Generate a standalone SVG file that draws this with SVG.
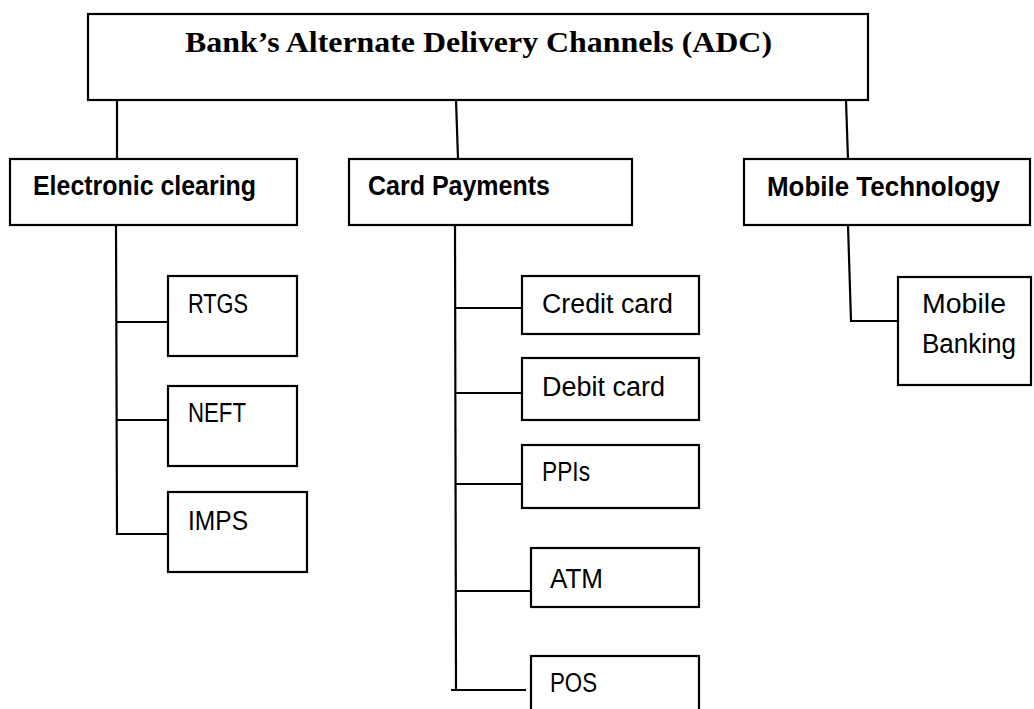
<svg xmlns="http://www.w3.org/2000/svg" width="1034" height="709" viewBox="0 0 1034 709">
<style>
.box{fill:#fff;stroke:#000;stroke-width:2.2}
.ln{fill:none;stroke:#000;stroke-width:2.2}
.title{font-family:"Liberation Serif","Times New Roman",serif;font-weight:bold;font-size:30px;fill:#000}
.hd{font-family:"Liberation Sans Narrow","Liberation Sans",Arial,sans-serif;font-weight:bold;font-size:27px;fill:#000}
.lb{font-family:"Liberation Sans Narrow","Liberation Sans",Arial,sans-serif;font-size:27px;fill:#000}
</style>
<rect width="1034" height="709" fill="#fff"/>
<g id="connectors">
<line class="ln" x1="117" y1="100" x2="117" y2="159"/>
<line class="ln" x1="456" y1="100" x2="458" y2="159"/>
<line class="ln" x1="846" y1="100" x2="848" y2="160"/>
<polyline class="ln" points="116,225 117,534 168,534"/>
<line class="ln" x1="116" y1="322" x2="168" y2="322"/>
<line class="ln" x1="116" y1="420" x2="168" y2="420"/>
<line class="ln" x1="455" y1="225" x2="456" y2="690"/>
<line class="ln" x1="455" y1="308" x2="522" y2="308"/>
<line class="ln" x1="455" y1="393" x2="522" y2="393"/>
<line class="ln" x1="455" y1="484" x2="522" y2="484"/>
<line class="ln" x1="455" y1="591" x2="531" y2="591"/>
<line class="ln" x1="451" y1="690" x2="526" y2="690"/>
<polyline class="ln" points="848,225 851,321 898,321"/>
</g>
<g id="root">
<rect class="box" x="88" y="14" width="780" height="86"/>
<text class="title" x="185" y="52" textLength="587" lengthAdjust="spacingAndGlyphs">Bank’s Alternate Delivery Channels (ADC)</text>
</g>
<g id="electronic-clearing">
<rect class="box" x="10" y="159" width="287" height="66"/>
<text class="hd" x="33" y="195" textLength="223" lengthAdjust="spacingAndGlyphs">Electronic clearing</text>
</g>
<g id="card-payments">
<rect class="box" x="349" y="159" width="283" height="66"/>
<text class="hd" x="368" y="195" textLength="182" lengthAdjust="spacingAndGlyphs">Card Payments</text>
</g>
<g id="mobile-technology">
<rect class="box" x="744" y="159" width="286" height="66"/>
<text class="hd" x="767" y="196" textLength="233" lengthAdjust="spacingAndGlyphs">Mobile Technology</text>
</g>
<g id="rtgs">
<rect class="box" x="168" y="276" width="129" height="80"/>
<text class="lb" x="188" y="313" textLength="60" lengthAdjust="spacingAndGlyphs">RTGS</text>
</g>
<g id="neft">
<rect class="box" x="168" y="386" width="129" height="80"/>
<text class="lb" x="188" y="422" textLength="58" lengthAdjust="spacingAndGlyphs">NEFT</text>
</g>
<g id="imps">
<rect class="box" x="168" y="492" width="139" height="80"/>
<text class="lb" x="188" y="530" textLength="60" lengthAdjust="spacingAndGlyphs">IMPS</text>
</g>
<g id="credit-card">
<rect class="box" x="522" y="276" width="177" height="58"/>
<text class="lb" x="542" y="313" textLength="131" lengthAdjust="spacingAndGlyphs">Credit card</text>
</g>
<g id="debit-card">
<rect class="box" x="522" y="358" width="177" height="62"/>
<text class="lb" x="542" y="396" textLength="123" lengthAdjust="spacingAndGlyphs">Debit card</text>
</g>
<g id="ppis">
<rect class="box" x="522" y="445" width="177" height="63"/>
<text class="lb" x="542" y="481" textLength="48" lengthAdjust="spacingAndGlyphs">PPIs</text>
</g>
<g id="atm">
<rect class="box" x="531" y="548" width="168" height="59"/>
<text class="lb" x="550" y="588" textLength="53" lengthAdjust="spacingAndGlyphs">ATM</text>
</g>
<g id="pos">
<rect class="box" x="531" y="656" width="168" height="60"/>
<text class="lb" x="550" y="692" textLength="47" lengthAdjust="spacingAndGlyphs">POS</text>
</g>
<g id="mobile-banking">
<rect class="box" x="898" y="277" width="133" height="108"/>
<text class="lb" x="922" y="313" textLength="84" lengthAdjust="spacingAndGlyphs">Mobile</text>
<text class="lb" x="922" y="353" textLength="94" lengthAdjust="spacingAndGlyphs">Banking</text>
</g>
</svg>
